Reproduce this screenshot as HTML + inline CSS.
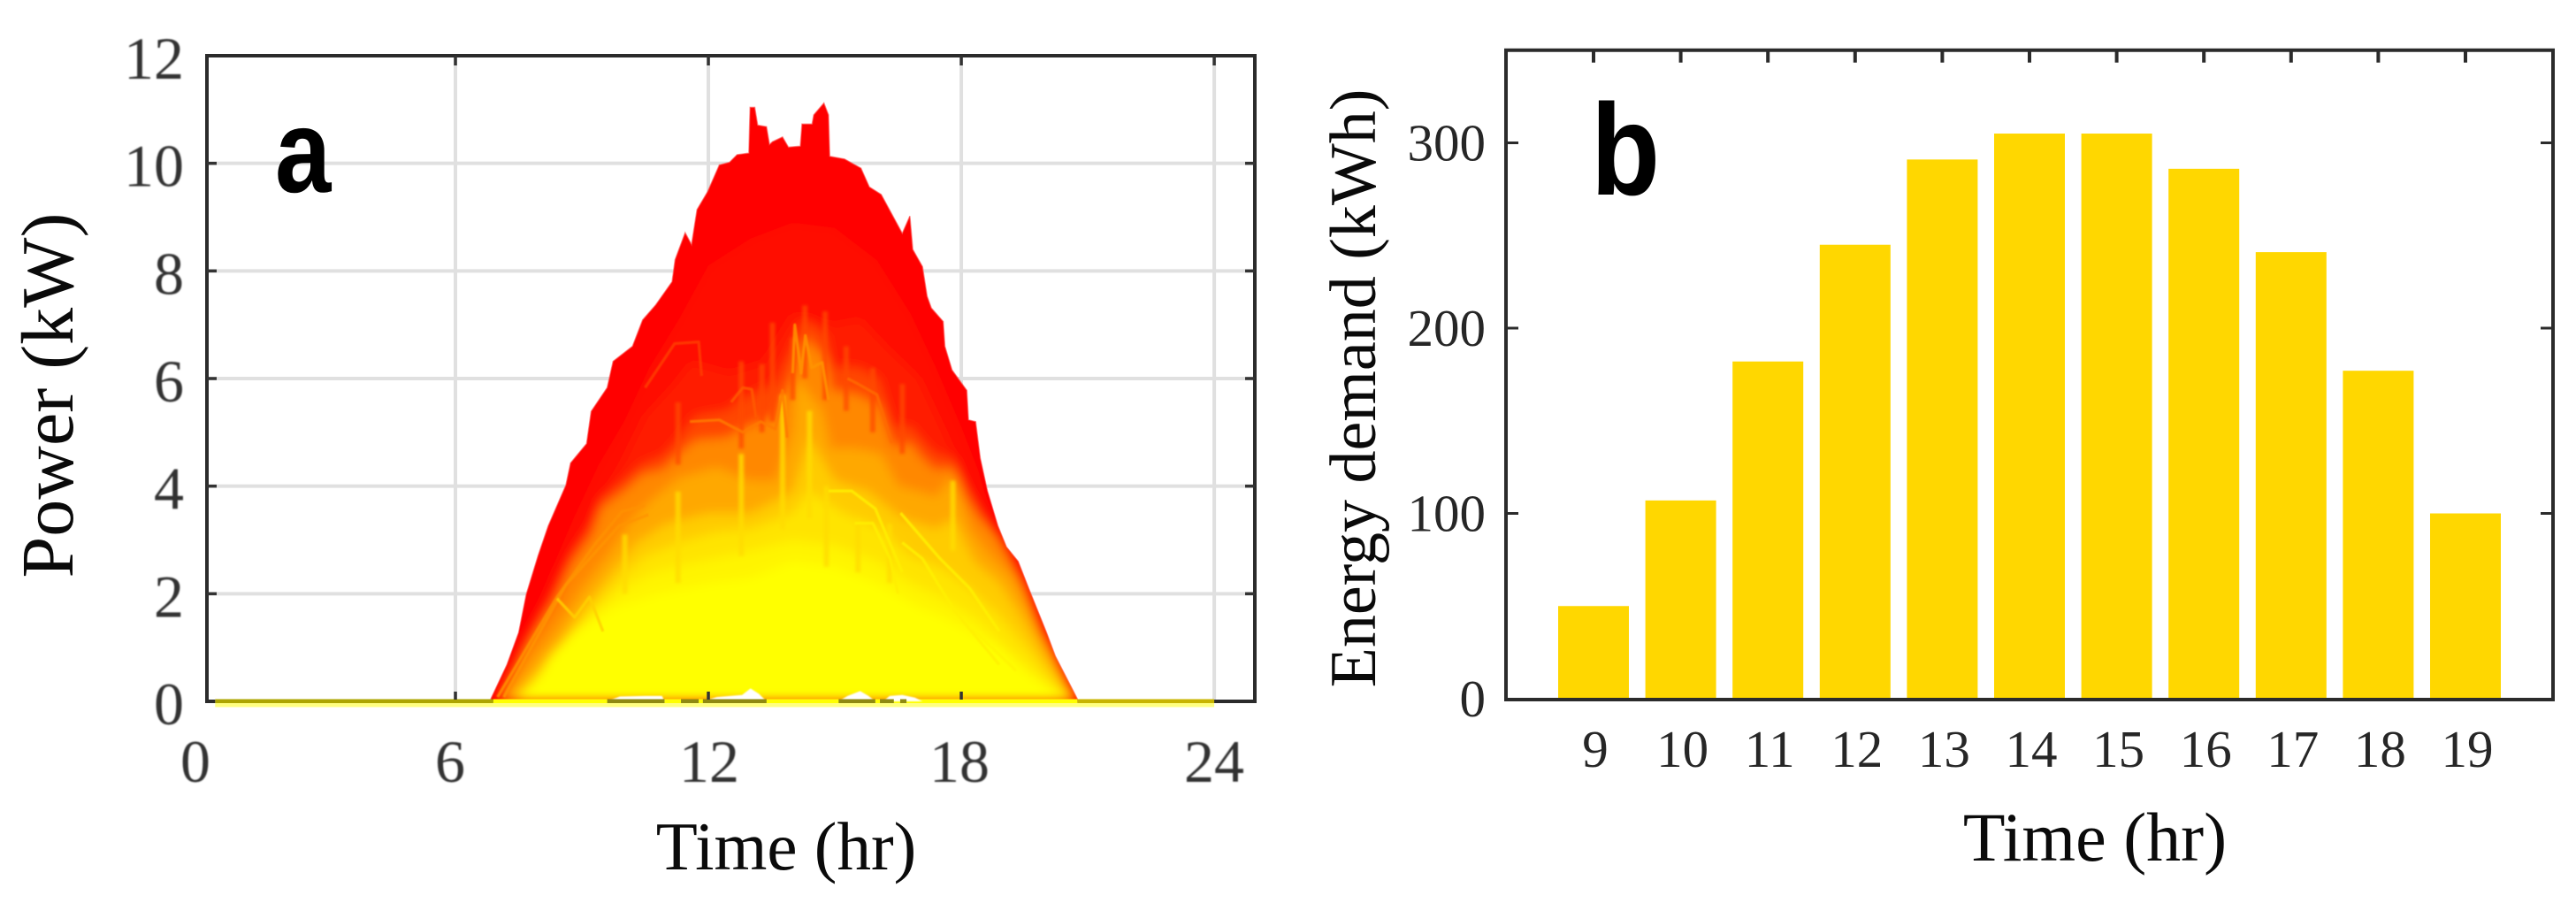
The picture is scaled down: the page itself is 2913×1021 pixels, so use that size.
<!DOCTYPE html>
<html lang="en">
<head>
<meta charset="utf-8">
<title>Power and energy demand charts</title>
<style>
html,body{margin:0;padding:0;background:#fff}
svg{display:block}
text{font-family:"Liberation Serif",serif}
</style>
</head>
<body>
<svg id="fig" xmlns="http://www.w3.org/2000/svg" width="2913" height="1021" viewBox="0 0 2913 1021">
  <defs>
    <filter id="soft" x="-10%" y="-10%" width="120%" height="120%"><feGaussianBlur stdDeviation="6"/></filter>
    <filter id="softLine" x="-10%" y="-10%" width="120%" height="120%"><feGaussianBlur stdDeviation="0.9"/></filter>
    <filter id="softStreak" x="-10%" y="-10%" width="120%" height="120%"><feGaussianBlur stdDeviation="1.6"/></filter>
    <filter id="softText" x="-10%" y="-10%" width="120%" height="120%"><feGaussianBlur stdDeviation="0.7"/></filter>
    <clipPath id="envClip"><polygon id="envClipShape" points=""/></clipPath>
  </defs>
  <rect width="2913" height="1021" fill="#fff"/>
  <g id="panelA"></g>
  <g id="panelB"></g>

  <text x="0" y="0" transform="translate(82,447) rotate(-90)" text-anchor="middle" font-size="84" fill="#0a0a0a">Power (kW)</text>
  <text x="889" y="983" text-anchor="middle" font-size="77" fill="#0a0a0a">Time (hr)</text>
  <text x="0" y="0" transform="translate(311,217) scale(.85,1)" font-size="134" font-weight="700" fill="#000" style="font-family:'Liberation Sans',sans-serif">a</text>

  <text x="0" y="0" transform="translate(1555,439) rotate(-90)" text-anchor="middle" font-size="74" fill="#0a0a0a">Energy demand (kWh)</text>
  <text x="2369" y="973" text-anchor="middle" font-size="78" fill="#0a0a0a">Time (hr)</text>
  <text x="0" y="0" transform="translate(1799,220) scale(.87,1)" font-size="147" font-weight="700" fill="#000" style="font-family:'Liberation Sans',sans-serif">b</text>
</svg>

<script>
// ---------- Panel A data (hour, kW) ----------
const powerXTicks = [0, 6, 12, 18, 24];
const powerYTicks = [0, 2, 4, 6, 8, 10, 12];

const upperEnvelope = [[6.84,.05],[7.22,.68],[7.5,1.28],[7.68,1.99],[7.96,2.71],[8.2,3.26],[8.62,4.02],[8.73,4.43],[9.11,4.79],[9.22,5.39],[9.6,5.83],[9.74,6.32],[10.2,6.6],[10.44,7.09],[10.75,7.37],[11.14,7.8],[11.21,8.21],[11.45,8.71],[11.6,8.49],[11.73,9.14],[11.98,9.47],[12.26,9.97],[12.5,10.02],[12.68,10.16],[12.96,10.19],[12.99,11.04],[13.1,11.04],[13.17,10.71],[13.38,10.68],[13.45,10.35],[13.52,10.4],[13.76,10.49],[13.9,10.3],[14.18,10.32],[14.22,10.73],[14.46,10.73],[14.5,10.9],[14.74,11.12],[14.85,10.9],[14.88,10.13],[15.23,10.08],[15.62,9.91],[15.82,9.56],[16.1,9.42],[16.6,8.7],[16.78,9.02],[16.85,8.4],[17.08,8.08],[17.19,7.53],[17.29,7.31],[17.57,7.06],[17.61,6.6],[17.78,6.16],[18.13,5.78],[18.17,5.23],[18.34,5.2],[18.45,4.52],[18.62,3.91],[18.87,3.26],[19.07,2.87],[19.35,2.6],[19.6,2.1],[20.02,1.28],[20.23,.84],[20.75,.05]];

const bandDeepRed = [[7,.1],[7.6,1.15],[8.2,2.3],[8.8,3.4],[9.4,4.4],[10,5.2],[10.6,6.2],[11.3,7.1],[12,8.1],[13,8.6],[14,8.9],[15,8.8],[16,8.2],[16.8,7.2],[17.4,6.2],[18,5.1],[18.4,4.3],[18.8,3.2],[19.3,2.5],[19.8,1.5],[20.7,.05]];
const bandRedOrange = [[7,.1],[7.7,1.2],[8.3,2.05],[8.76,2.8],[9.3,3.5],[10,4.5],[10.5,5.3],[11.2,5.9],[11.6,6.3],[12.5,6.1],[13.3,6.3],[14,7.2],[14.35,7.1],[15,7],[15.6,7.1],[16.2,6.6],[17,6],[17.6,5],[18.1,4.1],[18.5,3.6],[19,3],[19.5,2.3],[20,1.3],[20.7,.06]];
const bandVermilion = [[7.05,.08],[7.7,1.12],[8.34,1.95],[8.76,2.7],[9.25,3.25],[9.46,3.75],[10.02,4.1],[10.44,4.4],[10.93,4.55],[11.28,4.85],[11.7,5.3],[12.47,5.4],[12.75,5.6],[13.59,5.9],[14,6.6],[14.29,7.1],[14.78,6.8],[14.92,6.2],[15.54,6.2],[16.03,6],[16.38,5.1],[16.8,5.1],[17,4.9],[17.36,4.6],[17.8,4.5],[18.13,3.9],[18.41,3.5],[18.83,3.15],[19.11,2.8],[19.53,2.15],[19.88,1.3],[20.75,.05]];
const bandOrange = [[7.08,.07],[7.71,1.06],[8.34,1.83],[8.76,2.54],[9.25,3.09],[9.46,3.58],[10.02,3.91],[10.44,4.21],[10.93,4.3],[11.28,4.57],[11.7,4.85],[12.47,4.9],[12.75,5.05],[13.59,5.3],[14,6],[14.29,6.76],[14.78,6.38],[14.92,5.78],[15.54,5.7],[16.03,5.5],[16.38,4.73],[16.8,4.79],[17,4.57],[17.36,4.3],[17.8,4.33],[18.13,3.75],[18.41,3.42],[18.83,3.09],[19.11,2.7],[19.53,2.05],[19.88,1.28],[20.02,1.12],[20.75,.05]];
const bandAmber = [[7.2,.07],[7.9,.85],[8.4,1.35],[9,2.1],[9.6,2.7],[10.1,3.3],[10.6,3.7],[11.3,4.15],[12.2,4.35],[13,4.1],[13.6,4.1],[14,5],[14.1,6],[14.7,5.4],[14.9,4.7],[15.5,4.7],[16.1,4.6],[16.5,4],[17,3.9],[17.4,3.8],[17.8,4.2],[18.2,3.2],[18.7,2.7],[19.2,2.3],[19.6,1.7],[20,1.1],[20.7,.05]];
const bandGold = [[7.4,.08],[8,.6],[8.5,1.1],[9,1.7],[9.7,2.4],[10.3,2.95],[11,3.3],[12,3.5],[13,3.5],[14,3.9],[14.4,4.9],[15,4.1],[15.8,3.9],[16.6,3.4],[17.4,3.2],[17.8,3.4],[18.3,2.6],[18.9,2.2],[19.4,1.6],[19.9,.9],[20.6,.05]];
const bandLemon = [[7.5,.08],[8.1,.6],[8.6,1.05],[9.2,1.7],[9.9,2.3],[10.5,2.7],[11.3,2.95],[12.2,3.15],[13,3.2],[14,3.5],[14.4,3.9],[15.2,3.5],[16,3.25],[16.8,2.7],[17.6,2.45],[18.2,2.1],[18.9,1.6],[19.5,1.05],[20.1,.45],[20.55,.04]];
const bandPaleYellow = [[7.6,.08],[8.2,.65],[8.8,1.3],[9.4,1.7],[10,2.1],[10.7,2.4],[11.5,2.55],[12.4,2.7],[13,2.8],[14,3],[15,2.9],[16,2.6],[16.8,2.2],[17.6,1.9],[18.4,1.5],[19,1.05],[19.6,.62],[20.2,.22],[20.5,.03]];
const bandYellow = [[7.5,.05],[7.92,.38],[8.27,.85],[8.76,1.25],[9.8,1.75],[10.8,2],[12,2.2],[13,2.3],[14,2.6],[15,2.5],[16,2.2],[17,1.75],[17.5,1.6],[18.2,1.3],[18.9,.98],[19.6,.5],[20.3,.13],[20.5,.02]];

const streakHours = [11.28, 12.78, 13.27, 13.52, 14, 14.29, 14.77, 15.27, 15.9, 16.6];
const streakTops = [5.56, 6.32, 6.27, 7.04, 6.76, 7.36, 7.25, 6.6, 6.2, 5.9];
const streakBases = [4.4, 4.7, 5, 5.2, 5.6, 6, 5.6, 5.4, 5, 4.6];

const yellowStreakHours = [10.02, 11.28, 12.78, 13.76, 14.4, 14.8, 15.55, 16.3, 17.8];
const yellowStreakTops = [3.1, 3.9, 4.6, 5.7, 5.4, 4, 3.4, 3.3, 4.1];
const yellowStreakBases = [2, 2.2, 2.7, 3.2, 3.4, 2.5, 2.4, 2.2, 2.8];

const traceRing = [[10.5,5.83],[11.2,6.65],[11.77,6.68],[11.84,6.05]];
const traceHump = [[12.54,5.56],[12.82,5.83],[13.03,5.8],[13.13,5.28]];
const traceCrest = [[11.56,5.2],[12.26,5.23],[12.82,5],[13.24,5.2],[13.59,5.06],[13.76,5.78],[13.87,4.9]];
const traceSpikes = [[14,6.1],[14.05,7],[14.2,6.1],[14.3,6.8],[14.45,6.2],[14.7,6.3],[14.85,5.6]];
const traceRightRing = [[15.3,6],[15.55,5.9],[16,5.7],[16.35,4.8]];
const traceDiagonalA = [[7,.08],[8.41,1.94],[9.32,2.93],[9.95,3.53],[10.5,3.64]];
const traceDiagonalB = [[7.15,.08],[8.62,2.16],[9.88,3.26],[10.58,3.47]];
const traceShoulder = [[8.41,1.91],[8.83,1.56],[9.18,1.94],[9.5,1.3]];
const traceFallA = [[14.85,3.91],[15.4,3.91],[15.96,3.58],[16.3,2.95],[16.6,2.4]];
const traceFallB = [[15.47,3.31],[15.9,3.31],[16.31,2.65],[16.5,2]];
const traceFallC = [[16.56,3.5],[17.5,2.65],[18.2,2.1],[18.9,1.3]];
const traceFallD = [[16.6,2.95],[17.08,2.65],[17.85,1.67],[18.9,.68]];
const traceFallE = [[18.2,1.39],[19.3,.57]];

const baselineGapA = [[9.6,0],[9.9,.09],[10.5,.1],[10.9,.1],[10.96,0]];
const baselineGapB = [[11.87,0],[12.2,.08],[12.8,.12],[13,.24],[13.2,.14],[13.38,0]];
const baselineGapC = [[15.09,0],[15.3,.1],[15.6,.19],[15.8,.1],[15.96,0]];
const baselineGapD = [[16.15,0],[16.3,.1],[16.6,.12],[16.9,.07],[17.08,0]];
const dataStartHour = 0.3;
const dataEndHour = 24;
const oliveRuns = [[9.6,10.96],[11.35,11.77],[11.87,13.38],[15.09,15.96],[16.07,16.4],[16.55,16.7]];

// ---------- Panel B data ----------
const demandHours = [9, 10, 11, 12, 13, 14, 15, 16, 17, 18, 19];
const demandValues = [50, 107, 182, 245, 291, 305, 305, 286, 241, 177, 100];
const demandYTicks = [0, 100, 200, 300];

// ---------- Helpers ----------
const NS = 'http://www.w3.org/2000/svg';
function mk(parent, tag, attrs, txt) {
  const el = document.createElementNS(NS, tag);
  for (const k in attrs) el.setAttribute(k, attrs[k]);
  if (txt !== undefined) el.textContent = txt;
  parent.appendChild(el);
  return el;
}

// ---------- Panel A axes ----------
const ax = h => 229 + h * 47.67;
const ay = v => 793 - v * (730 / 12);
const axLabel = h => 221 + h * 48 + (h === 12 ? 5 : 0);
const areaPoints = pts => {
  const p = pts.map(d => ax(d[0]).toFixed(1) + ',' + ay(d[1]).toFixed(1));
  p.unshift(ax(pts[0][0]).toFixed(1) + ',' + ay(0));
  p.push(ax(pts[pts.length - 1][0]).toFixed(1) + ',' + ay(0));
  return p.join(' ');
};
const linePoints = pts => pts.map(d => ax(d[0]).toFixed(1) + ',' + ay(d[1]).toFixed(1)).join(' ');

const A = document.getElementById('panelA');
const GRID = '#e0e0e0', DARK = '#2b2b2b';

powerXTicks.slice(1).forEach(t => {
  const g = mk(A, 'line', {x1: ax(t), x2: ax(t), y1: ay(12), y2: ay(0), stroke: GRID, 'stroke-width': 4});
  
  
});
powerYTicks.slice(1, -1).forEach(t => {
  const g = mk(A, 'line', {x1: 234, x2: 1419, y1: ay(t), y2: ay(t), stroke: GRID, 'stroke-width': 4});
  
  
});

// Outer envelope
document.getElementById('envClipShape').setAttribute('points', areaPoints(upperEnvelope));
const outer = mk(A, 'polygon', {points: areaPoints(upperEnvelope), fill: '#ff0000', stroke: '#ff5050', 'stroke-width': 1.5, 'stroke-opacity': .6});



// Colour bands
const clipped = mk(A, 'g', {'clip-path': 'url(#envClip)'});


const blurred = mk(clipped, 'g', {filter: 'url(#soft)'});


const bands = [bandDeepRed, bandRedOrange, bandVermilion, bandOrange, bandAmber, bandGold, bandLemon, bandPaleYellow, bandYellow];
const bandFill = ['#ff0c00', '#ff1c00', '#ff4600', '#ff8800', '#ffa800', '#ffcc00', '#ffe400', '#fff400', '#ffff00'];
bands.forEach((b, i) => {
  const p = mk(blurred, 'polygon', {points: areaPoints(b), fill: bandFill[i]});
  
  
});

// Vertical streaks
const streaks = mk(clipped, 'g', {filter: 'url(#softStreak)', 'stroke-width': 6});


streakHours.forEach((h, i) => {
  const s = mk(streaks, 'line', {x1: ax(h), x2: ax(h), y1: ay(streakBases[i]), y2: ay(streakTops[i]), stroke: '#ff4a00', 'stroke-opacity': .75});
  
  
});
yellowStreakHours.forEach((h, i) => {
  const s = mk(streaks, 'line', {x1: ax(h), x2: ax(h), y1: ay(yellowStreakBases[i]), y2: ay(yellowStreakTops[i]), stroke: '#ffdc00', 'stroke-opacity': .8});
  
  
});

// Individual traces
const tracesGroup = mk(clipped, 'g', {filter: 'url(#softLine)', fill: 'none', 'stroke-width': 3.2, 'stroke-linejoin': 'round', 'stroke-opacity': .85});


const traces = [traceRing, traceHump, traceCrest, traceSpikes, traceRightRing, traceDiagonalA, traceDiagonalB, traceShoulder, traceFallA, traceFallB, traceFallC, traceFallD, traceFallE];
const traceColor = ['#ff3c00', '#ff5a00', '#ff7a00', '#ff9400', '#ff6a00', '#ff9000', '#ff9400', '#ffd000', '#ffee00', '#ffee00', '#fff000', '#fff000', '#fff400'];
traces.forEach((t, i) => {
  const l = mk(tracesGroup, 'polyline', {points: linePoints(t), stroke: traceColor[i]});
  
  
});

// Baseline strips
const paleStrip = mk(A, 'rect', {x: ax(dataStartHour), y: 795, width: ax(dataEndHour) - ax(dataStartHour), height: 4.5, fill: '#ffff80'});


const zeroLeft = mk(A, 'rect', {x: ax(dataStartHour), y: 790.5, width: ax(6.9) - ax(dataStartHour), height: 4.5, fill: '#ada500'});


const zeroRight = mk(A, 'rect', {x: ax(20.75), y: 790.5, width: ax(dataEndHour) - ax(20.75), height: 4.5, fill: '#c8b400'});


const zeroMid = mk(A, 'rect', {x: ax(6.9), y: 790.5, width: ax(20.75) - ax(6.9), height: 4.5, fill: '#ffff00'});



[baselineGapA, baselineGapB, baselineGapC, baselineGapD].forEach((g, i) => {
  const p = mk(A, 'polygon', {points: areaPoints(g), fill: '#ffffff', filter: 'url(#softLine)'});
  
  
});
oliveRuns.forEach((r, i) => {
  const o = mk(A, 'rect', {x: ax(r[0]), y: 790.5, width: ax(r[1]) - ax(r[0]), height: 4.5, fill: '#8f8a10'});
  
  
});

// Panel A frame and ticks
const frameA = mk(A, 'path', {d: 'M234 793V63H1419V793', fill: 'none', stroke: DARK, 'stroke-width': 4});


const bottomStub = mk(A, 'line', {x1: ax(dataEndHour), x2: 1421, y1: 793, y2: 793, stroke: DARK, 'stroke-width': 4});


const leftStub = mk(A, 'line', {x1: 232, x2: ax(dataStartHour), y1: 793, y2: 793, stroke: DARK, 'stroke-width': 4});



powerYTicks.slice(1, -1).forEach(t => {
  const a = mk(A, 'line', {x1: 234, x2: 245, y1: ay(t), y2: ay(t), stroke: '#333', 'stroke-width': 3.5});
  
  
  const b = mk(A, 'line', {x1: 1408, x2: 1419, y1: ay(t), y2: ay(t), stroke: '#333', 'stroke-width': 3.5});
  
  
});
powerXTicks.slice(1).forEach(t => {
  const a = mk(A, 'line', {x1: ax(t), x2: ax(t), y1: 63, y2: 74, stroke: '#333', 'stroke-width': 3.5});
  
  
  if (t < 24) {
    const b = mk(A, 'line', {x1: ax(t), x2: ax(t), y1: 782, y2: 791, stroke: '#333', 'stroke-width': 3.5});
    
    
  }
});

// Panel A tick labels
const aLabels = mk(A, 'g', {filter: 'url(#softText)', fill: '#333', 'font-size': 68});


powerYTicks.forEach(t => {
  const l = mk(aLabels, 'text', {x: 208, y: ay(t) + 26, 'text-anchor': 'end'}, String(t));
  
  
});
powerXTicks.forEach(t => {
  const l = mk(aLabels, 'text', {x: axLabel(t), y: 884, 'text-anchor': 'middle'}, String(t));
  
  
});

// ---------- Panel B axes ----------
const bx = h => 1802 + (h - 9) * 98.6;
const by = v => 790 - v * 2.095;
const B = document.getElementById('panelB');
const BAR_W = 80;

demandHours.forEach((h, i) => {
  const r = mk(B, 'rect', {x: bx(h) - BAR_W / 2, y: by(demandValues[i]), width: BAR_W, height: by(0) - by(demandValues[i]), fill: '#ffd700'});
  
  
  const tick = mk(B, 'line', {x1: bx(h), x2: bx(h), y1: by(350), y2: by(350) + 14, stroke: DARK, 'stroke-width': 4});
  
  
  const l = mk(B, 'text', {x: bx(h) + 2, y: 867, 'text-anchor': 'middle', 'font-size': 59, fill: '#262626'}, String(h));
  
  
});
const frameB = mk(B, 'rect', {x: 1703, y: by(350), width: 1184, height: by(0) + 1 - by(350), fill: 'none', stroke: DARK, 'stroke-width': 4});


demandYTicks.forEach(t => {
  if (t > 0) {
    const a = mk(B, 'line', {x1: 1703, x2: 1717, y1: by(t), y2: by(t), stroke: DARK, 'stroke-width': 3});
    
    
    const c = mk(B, 'line', {x1: 2873, x2: 2887, y1: by(t), y2: by(t), stroke: DARK, 'stroke-width': 3});
    
    
  }
  const l = mk(B, 'text', {x: 1680, y: by(t) + 20, 'text-anchor': 'end', 'font-size': 59, fill: '#262626'}, String(t));
  
  
});
</script>
</body>
</html>
